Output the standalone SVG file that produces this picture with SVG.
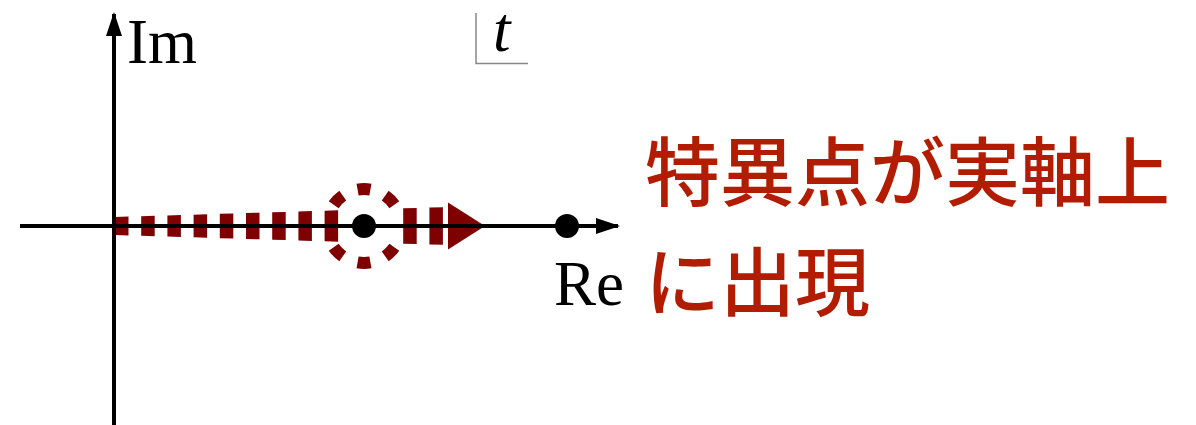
<svg xmlns="http://www.w3.org/2000/svg" width="1196" height="425" viewBox="0 0 1196 425">
<style>
.ax{stroke:#000;stroke-width:4;fill:none}
.dash{fill:#7f0000}
.arc{fill:none;stroke:#7f0000;stroke-width:12;stroke-linecap:butt}
.lbl{font-family:"Liberation Serif","Times New Roman",serif;font-size:63px;fill:#000}
.jp{font-family:"Noto Sans CJK JP","Noto Sans",sans-serif;font-size:75px;font-weight:500;fill:#b21c00}
</style>
<defs>
<marker id="ah" viewBox="0 0 6 4" refX="5.5" refY="2" markerWidth="6" markerHeight="4" orient="auto" markerUnits="strokeWidth">
<path d="M0,0 L6,2 L0,4 Z" fill="#000"/>
</marker>
</defs>
<g id="path-dashes">
<path class="dash" d="M115,217 L128.5,216.6 L128.5,235.4 L115,235 Z"/>
<path class="dash" d="M141.2,216.2 L154.7,215.8 L154.7,236.2 L141.2,235.8 Z"/>
<path class="dash" d="M167.4,215.45 L180.9,215.05 L180.9,236.95 L167.4,236.55 Z"/>
<path class="dash" d="M193.6,214.65 L207.1,214.25 L207.1,237.75 L193.6,237.35 Z"/>
<path class="dash" d="M219.8,213.85 L233.3,213.45 L233.3,238.55 L219.8,238.15 Z"/>
<path class="dash" d="M246,213.05 L259.5,212.65 L259.5,239.35 L246,238.95 Z"/>
<path class="dash" d="M272.2,212.3 L285.7,211.9 L285.7,240.1 L272.2,239.7 Z"/>
<path class="dash" d="M298.4,211.5 L311.9,211.1 L311.9,240.9 L298.4,240.5 Z"/>
<path class="dash" d="M324.6,210.7 L338.1,210.3 L338.1,241.7 L324.6,241.3 Z"/>
<path class="dash" d="M403.2,208.35 L416.7,207.95 L416.7,244.05 L403.2,243.65 Z"/>
<path class="dash" d="M429.4,207.55 L442.9,207.15 L442.9,244.85 L429.4,244.45 Z"/>
<path class="dash" d="M448,202.5 L485,226 L448,249.5 Z"/>
</g>
<g id="dashed-circle">
<path class="arc" d="M357.58,189.56 A37,37 0 0 1 370.42,189.56"/>
<path class="arc" d="M385.22,195.69 A37,37 0 0 1 394.31,204.78"/>
<path class="arc" d="M394.31,247.22 A37,37 0 0 1 385.22,256.31"/>
<path class="arc" d="M370.42,262.44 A37,37 0 0 1 357.58,262.44"/>
<path class="arc" d="M342.78,256.31 A37,37 0 0 1 333.69,247.22"/>
<path class="arc" d="M333.69,204.78 A37,37 0 0 1 342.78,195.69"/>
</g>
<g id="axes">
<line class="ax" x1="114" y1="425" x2="114" y2="14" marker-end="url(#ah)"/>
<line class="ax" x1="20" y1="226" x2="618" y2="226" marker-end="url(#ah)"/>
</g>
<g id="points">
<circle cx="364" cy="226" r="12" fill="#000"/>
<circle cx="567" cy="226" r="12" fill="#000"/>
</g>
<g id="labels">
<text class="lbl" x="127" y="63">Im</text>
<text class="lbl" x="554" y="305">Re</text>
<g id="t-label">
<path d="M476,13 L476,63.5 L528,63.5" fill="none" stroke="#888" stroke-width="1.5"/>
<text class="lbl" x="493" y="51" font-style="italic" font-size="54">t</text>
</g>
</g>
<g id="note">
<text class="jp" x="645" y="200">特異点が実軸上</text>
<text class="jp" x="645" y="310">に出現</text>
</g>
</svg>
